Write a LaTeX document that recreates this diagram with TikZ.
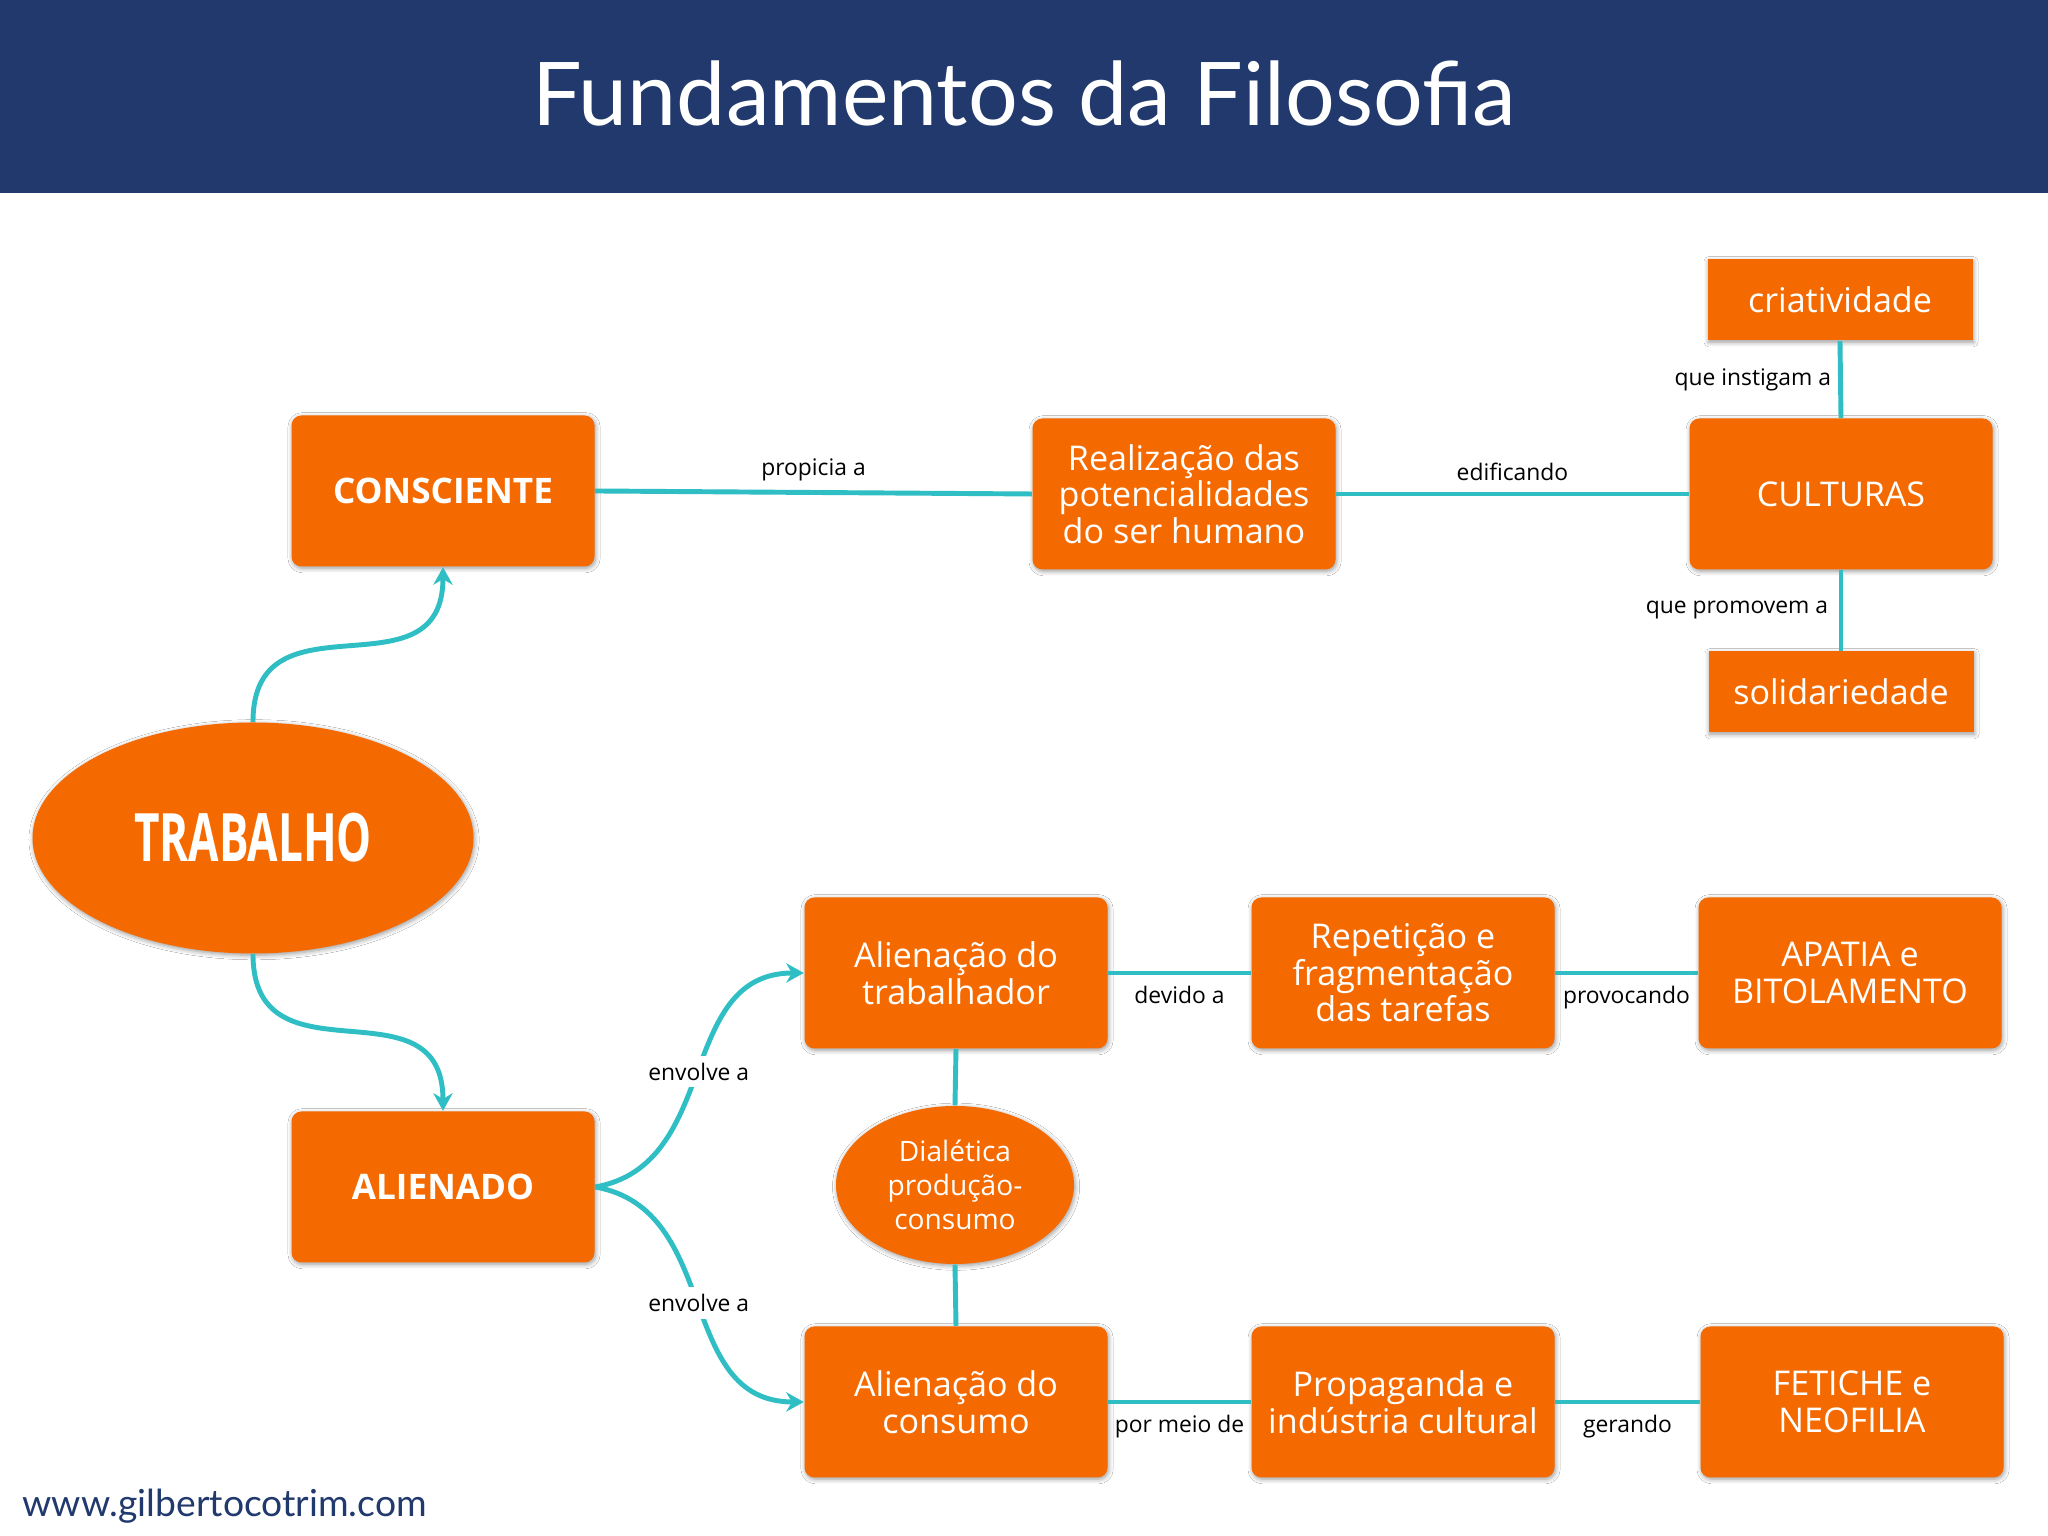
\documentclass[tikz,border=0pt]{standalone}
\usepackage{fontspec}
\setmainfont{Open Sans}
\newfontfamily\titlefont{Lato}
\newfontfamily\condfont{Open Sans}[FakeStretch=0.66]
\usetikzlibrary{arrows.meta, shapes.geometric, shadows.blur}
\definecolor{korange}{RGB}{245,106,0}
\definecolor{kteal}{RGB}{46,190,196}
\definecolor{knavy}{RGB}{33,57,108}
\tikzset{
  glow/.style={blur shadow={shadow xshift=0.3pt, shadow yshift=-0.5pt, shadow blur radius=1.3pt, shadow blur steps=6, shadow opacity=40}},
  box/.style={fill=korange, text=white, align=center, inner sep=2pt, glow, font=\fontsize{9.7}{10.4}\selectfont},
  kbig/.style={box, rounded corners=0.1cm, minimum width=3.03cm, minimum height=1.51cm},
  kleaf/.style={box, minimum width=2.65cm, minimum height=0.81cm},
  koval/.style={box, ellipse, inner sep=0pt},
  tie/.style={draw=kteal, line width=1.4pt},
  flow/.style={tie, -{Stealth[length=5pt, width=5.5pt]}},
  lbl/.style={font=\fontsize{6.5}{8}\selectfont, text=black, inner sep=2pt},
}
\begin{document}
\begin{tikzpicture}
    \fill[white] (0,0) rectangle (20.48,15.36);
    \useasboundingbox (0,0) rectangle (20.48,15.36);
    \fill[knavy] (0,13.43) rectangle (20.48,15.36);
    \node[text=white, font=\titlefont\fontsize{25}{30}\selectfont] (title) at (10.24,14.42) {Fundamentos da Filosofia};
    \node[koval, minimum width=4.41cm, minimum height=2.31cm, font=\condfont\bfseries\fontsize{19}{22}\selectfont] (trab) at (2.53,6.98) {TRABALHO};
    \node[kbig, font=\bfseries\fontsize{10}{12}\selectfont] (consc) at (4.43,10.45) {CONSCIENTE};
    \node[kbig] (real) at (11.84,10.42) {Realização das\\potencialidades\\do ser humano};
    \node[kbig] (cult) at (18.41,10.42) {CULTURAS};
    \node[kleaf] (criat) at (18.40,12.36) {criatividade};
    \node[kleaf] (solid) at (18.41,8.44) {solidariedade};
    \node[kbig, font=\bfseries\fontsize{10}{12}\selectfont] (alien) at (4.43,3.49) {ALIENADO};
    \node[kbig] (alitrab) at (9.56,5.63) {Alienação do\\trabalhador};
    \node[kbig] (repet) at (14.03,5.63) {Repetição e\\fragmentação\\das tarefas};
    \node[kbig] (apatia) at (18.50,5.63) {APATIA e\\BITOLAMENTO};
    \node[koval, minimum width=2.38cm, minimum height=1.58cm, font=\fontsize{8}{9.6}\selectfont] (dial) at (9.55,3.51) {Dialética\\produção-\\consumo};
    \node[kbig] (alicons) at (9.56,1.34) {Alienação do\\consumo};
    \node[kbig] (propag) at (14.03,1.34) {Propaganda e\\indústria cultural};
    \node[kbig] (fetiche) at (18.52,1.34) {FETICHE e\\NEOFILIA};
    \node[anchor=west, inner sep=0pt, text=knavy, font=\titlefont\fontsize{10.6}{12}\selectfont] (site) at (0.22,0.30) {www.gilbertocotrim.com};
    % ligacoes
    \draw[flow] (trab.north) to[out=90, in=-90, looseness=1.4] (consc.south);
    \draw[flow] (trab.south) to[out=-90, in=90, looseness=1.4] (alien.north);
    \draw[tie] (consc.east) -- (real.west) node[midway, above=0.5pt, lbl]{propicia a};
    \draw[tie] (real.east) -- (cult.west) node[midway, above=1pt, lbl]{edificando};
    \draw[tie] (cult.north) -- (criat.south) node[midway, left, lbl]{que instigam a};
    \draw[tie] (cult.south) -- (solid.north) node[midway, left=1pt, lbl]{que promovem a};
    \draw[flow] (alien.east) to[out=10, in=180, looseness=1.1] node[midway, lbl, fill=white]{envolve a} (alitrab.west);
    \draw[flow] (alien.east) to[out=-10, in=180, looseness=1.1] node[midway, lbl, fill=white]{envolve a} (alicons.west);
    \draw[tie] (alitrab.south) -- (dial.north);
    \draw[tie] (dial.south) -- (alicons.north);
    \draw[tie] (alitrab.east) -- (repet.west) node[midway, below=1pt, lbl]{devido a};
    \draw[tie] (repet.east) -- (apatia.west) node[midway, below=1pt, lbl]{provocando};
    \draw[tie] (alicons.east) -- (propag.west) node[midway, below=1pt, lbl]{por meio de};
    \draw[tie] (propag.east) -- (fetiche.west) node[midway, below=1pt, lbl]{gerando};
  \end{tikzpicture}
\end{document}
